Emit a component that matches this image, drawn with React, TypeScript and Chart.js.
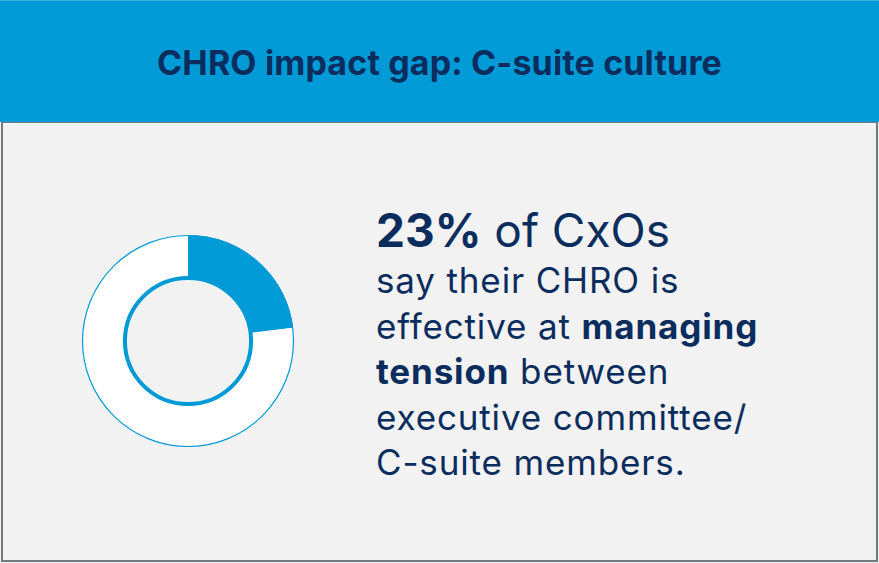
import React, { useEffect, useRef } from "react";
import { Chart, registerables } from "chart.js";

Chart.register(...registerables);

const categories = ["Effective at managing tension", "Not effective / other"];
const values = [23, 77];
const sliceColors = ["#009AD6", "#FFFFFF"];

const BLUE = "#009AD6";
const NAVY = "#0B2D5E";

const ringPlugin = {
  id: "ringBorders",
  afterDatasetsDraw(chart: any) {
    const meta = chart.getDatasetMeta(0);
    const arc = meta.data[0];
    if (!arc) return;
    const { x, y, outerRadius, innerRadius } = arc.getProps(["x", "y", "outerRadius", "innerRadius"], true);
    const ctx = chart.ctx;
    ctx.save();
    ctx.strokeStyle = BLUE;
    ctx.lineWidth = 1.2;
    ctx.beginPath();
    ctx.arc(x, y, outerRadius - 0.5, 0, Math.PI * 2);
    ctx.stroke();
    ctx.lineWidth = 4;
    ctx.beginPath();
    ctx.arc(x, y, innerRadius, 0, Math.PI * 2);
    ctx.stroke();
    ctx.restore();
  },
};

export default function App() {
  const ref = useRef<HTMLCanvasElement>(null);

  useEffect(() => {
    document.body.style.margin = "0";
    const chart = new Chart(ref.current!, {
      type: "doughnut",
      data: {
        labels: categories,
        datasets: [
          {
            data: values,
            backgroundColor: sliceColors,
            borderWidth: 0,
          },
        ],
      },
      options: {
        responsive: false,
        animation: false,
        radius: 106,
        cutout: "59.5%",
        plugins: {
          legend: { display: false },
          tooltip: { enabled: false },
          title: { display: false },
        },
      },
      plugins: [ringPlugin],
    });
    return () => chart.destroy();
  }, []);

  const font = "Inter, 'Noto Sans', sans-serif";
  const lineStyle = (i: number): React.CSSProperties => ({
    position: "absolute",
    left: 376,
    top: 258.3 + 45.5 * i,
    fontSize: 35,
    lineHeight: "45px",
    letterSpacing: 0.85,
    whiteSpace: "nowrap",
    color: NAVY,
    fontWeight: 400,
  });

  return (
    <div
      style={{
        position: "absolute",
        left: 0,
        top: 0,
        width: 879,
        height: 563,
        fontFamily: font,
        background: "#F2F2F2",
        overflow: "hidden",
      }}
    >
      <div
        style={{
          position: "absolute",
          left: 0,
          top: 0,
          width: 879,
          height: 122,
          background: BLUE,
          borderTop: "1px solid #3AAEDD",
          boxSizing: "border-box",
          display: "flex",
          alignItems: "center",
          justifyContent: "center",
        }}
      >
        <div style={{ color: NAVY, fontWeight: 700, fontSize: 34, letterSpacing: 0.15, marginTop: 1 }}>
          CHRO impact gap: C-suite culture
        </div>
      </div>
      <div
        style={{
          position: "absolute",
          left: 1,
          top: 122,
          width: 877,
          height: 440,
          boxSizing: "border-box",
          borderLeft: "2px solid #6F7B7C",
          borderRight: "2px solid #6F7B7C",
          borderBottom: "2px solid #6F7B7C",
          borderTop: "1px solid #6F7B7C",
        }}
      />
      <canvas
        ref={ref}
        width={232}
        height={232}
        style={{ position: "absolute", left: 72, top: 225, width: 232, height: 232 }}
      />
      <div
        style={{
          position: "absolute",
          left: 376,
          top: 207,
          fontSize: 46,
          lineHeight: "46px",
          whiteSpace: "nowrap",
          color: NAVY,
        }}
      >
        <b style={{ fontWeight: 700 }}>23%</b> of CxOs
      </div>
      <div style={lineStyle(0)}>say their CHRO is</div>
      <div style={lineStyle(1)}>
        effective at <b style={{ fontWeight: 700 }}>managing</b>
      </div>
      <div style={lineStyle(2)}>
        <b style={{ fontWeight: 700 }}>tension</b> between
      </div>
      <div style={lineStyle(3)}>executive committee/</div>
      <div style={lineStyle(4)}>C-suite members.</div>
    </div>
  );
}
